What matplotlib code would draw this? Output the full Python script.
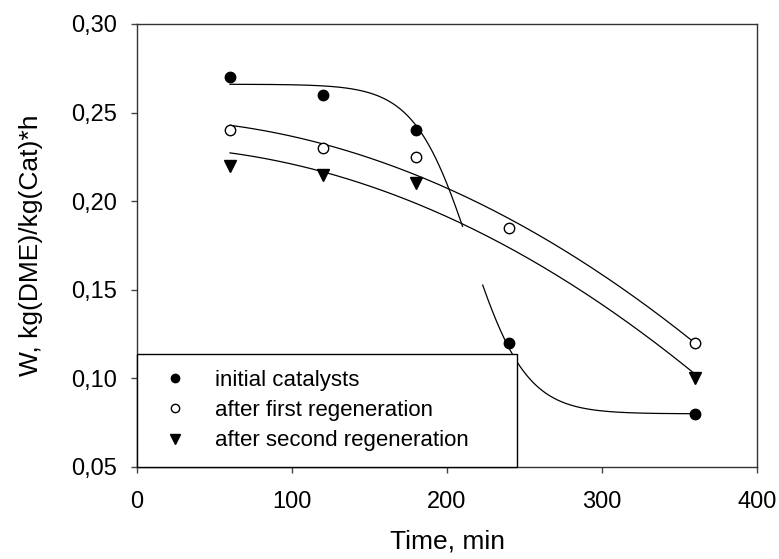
import numpy as np
import matplotlib.pyplot as plt
from matplotlib.ticker import FuncFormatter

plt.rcParams['font.family'] = ['Liberation Sans', 'DejaVu Sans']

# measured points
time_init = [60, 120, 180, 240, 360]
w_init = [0.27, 0.26, 0.24, 0.12, 0.08]
time_first = [60, 120, 180, 240, 360]
w_first = [0.24, 0.23, 0.225, 0.185, 0.12]
time_second = [60, 120, 180, 360]
w_second = [0.22, 0.215, 0.21, 0.10]

labels = ['initial catalysts', 'after first regeneration', 'after second regeneration']

# sigmoid fit for the initial catalyst
sig_bottom = 0.08
sig_span = 0.186
sig_mid = 215
sig_width = 18
# the drawn fit has a break between these times
gap_start, gap_end = 210, 223

fig = plt.figure(figsize=(7.79, 5.59), dpi=100)
ax = fig.add_axes([0.1759, 0.1646, 0.7959, 0.7925])

def sigmoid(t):
    return sig_bottom + sig_span / (1 + np.exp((t - sig_mid) / sig_width))

t1 = np.linspace(min(time_init), gap_start, 200)
t2 = np.linspace(gap_end, max(time_init), 200)
ax.plot(t1, sigmoid(t1), color='black', lw=0.9)
ax.plot(t2, sigmoid(t2), color='black', lw=0.9)

# regenerated samples: least squares fit of w = a + b*t^2
for tt, ww in [(time_first, w_first), (time_second, w_second)]:
    tt = np.array(tt, dtype=float)
    b, a = np.polyfit(tt ** 2, ww, 1)
    ts = np.linspace(tt.min(), tt.max(), 200)
    ax.plot(ts, a + b * ts ** 2, color='black', lw=0.9)

h1, = ax.plot(time_init, w_init, 'o', color='black', ms=7.5, ls='none', label=labels[0])
h2, = ax.plot(time_first, w_first, 'o', mfc='white', mec='black', mew=1, ms=7.5, ls='none', label=labels[1])
h3, = ax.plot(time_second, w_second, 'v', color='black', ms=8.5, ls='none', label=labels[2])

ax.set_xlim(0, 400)
ax.set_ylim(0.05, 0.30)
ax.set_xticks([0, 100, 200, 300, 400])
ax.set_yticks([0.05, 0.10, 0.15, 0.20, 0.25, 0.30])
ax.yaxis.set_major_formatter(FuncFormatter(lambda v, p: f'{v:.2f}'.replace('.', ',')))
ax.tick_params(direction='out', length=4.5, width=1, color='#444444', labelsize=17,
               top=False, right=False)
ax.tick_params(axis='x', pad=13)
ax.tick_params(axis='y', pad=10)
for s in ax.spines.values():
    s.set_linewidth(1.0)
    s.set_color('#333333')

ax.set_xlabel('Time, min', fontsize=19, labelpad=12)
ax.set_ylabel('W, kg(DME)/kg(Cat)*h', fontsize=19, labelpad=20)

leg = ax.legend(handles=[h1, h2, h3], loc='lower left', bbox_to_anchor=(0, 0, 0.613, 0.25),
                mode='expand', borderaxespad=0, fancybox=False, edgecolor='black',
                fontsize=16, borderpad=0.7, labelspacing=0.42, handletextpad=0.8,
                handlelength=2.0, markerscale=0.8, framealpha=1)
leg.get_frame().set_linewidth(1.0)

fig.savefig('out.png', dpi=100)
